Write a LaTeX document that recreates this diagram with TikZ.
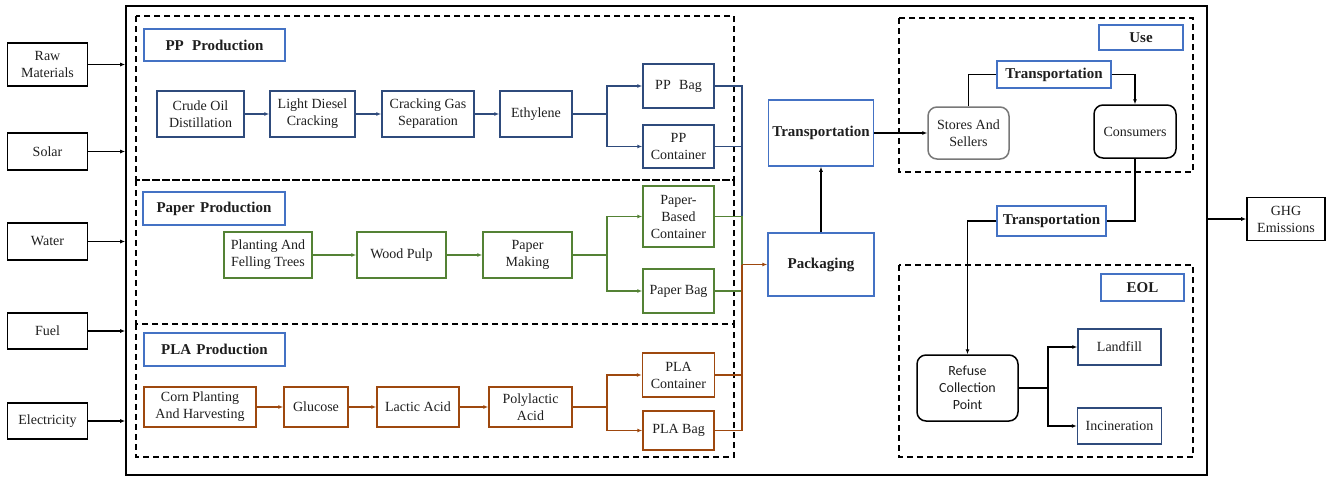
\documentclass[tikz,border=0pt]{standalone}
\usepackage{fontspec}
\setmainfont{Liberation Serif}
\newfontfamily\calfont{Carlito}
\usetikzlibrary{arrows.meta}
\definecolor{ppc}{RGB}{47,75,124}
\definecolor{pac}{RGB}{84,130,53}
\definecolor{plc}{RGB}{158,72,14}
\definecolor{lbc}{RGB}{68,114,196}
\definecolor{grc}{RGB}{120,120,120}
\definecolor{txc}{RGB}{30,30,30}
\begin{document}
\begin{tikzpicture}[x=1pt,y=-1pt,
  every node/.style={font=\fontsize{14}{17}\selectfont, align=center, inner sep=0pt, text=txc},
  ibox/.style={draw=black, line width=1.6pt, minimum width=80},
  ppb/.style={draw=ppc, line width=1.5pt},
  pab/.style={draw=pac, line width=1.5pt},
  plb/.style={draw=plc, line width=1.5pt},
  lab/.style={draw=lbc, line width=1.5pt, font=\bfseries\fontsize{15}{18}\selectfont},
  rnd/.style={draw=black, rounded corners=9pt, line width=1.5pt},
  dbox/.style={draw=black, dash pattern=on 6pt off 4pt, line width=1.4pt},
  arr/.style={-{Latex[length=5pt,width=4pt]}, line width=1.1pt},
  ppa/.style={arr, draw=ppc},
  paa/.style={arr, draw=pac},
  pla/.style={arr, draw=plc},
  ppl/.style={draw=ppc, line width=1.1pt},
  pal/.style={draw=pac, line width=1.1pt},
  pll/.style={draw=plc, line width=1.1pt},
  bl/.style={draw=black, line width=1.1pt}]
\useasboundingbox (0,0) rectangle (1333,477);

% outer frame
\node[draw=black, line width=1.6pt, minimum width=1081, minimum height=469] (outer) at (666.5,240.5) {};

% inputs
\node[ibox, minimum height=43] (raw) at (47.5,64.5) {Raw\\Materials};
\node[ibox, minimum height=37] (solar) at (47.5,151.5) {Solar};
\node[ibox, minimum height=37] (water) at (47.5,241.5) {Water};
\node[ibox, minimum height=36] (fuel) at (47.5,331) {Fuel};
\node[ibox, minimum height=36] (elec) at (47.5,421) {Electricity};
\foreach \n in {raw,solar,water,fuel,elec}{
  \draw[arr] (\n.east) -- (\n.east -| outer.west);
}
\node[ibox, minimum width=78, minimum height=43] (ghg) at (1286,219) {GHG\\Emissions};
\draw[arr] (outer.east |- ghg.west) -- (ghg.west);

% dashed groups
\draw[dbox] (136,16) rectangle (734,180);
\draw[dbox] (136,180) rectangle (734,324);
\draw[dbox] (136,324) rectangle (734,457);
\draw[dbox] (899,18) rectangle (1193,172);
\draw[dbox] (899,265) rectangle (1193,457);

% group labels
\node[lab, minimum width=141, minimum height=32] (lpp) at (214.5,45) {PP\hspace{0.55em}Production};
\node[lab, minimum width=142, minimum height=33] (lpa) at (214,208.5) {Paper\hspace{0.35em}Production};
\node[lab, minimum width=141, minimum height=33] (lpl) at (214.5,349.5) {PLA\hspace{0.35em}Production};

% PP row
\node[ppb, minimum width=87, minimum height=46] (cod) at (200.5,114) {Crude Oil\\Distillation};
\node[ppb, minimum width=85, minimum height=46] (ldc) at (312.5,114) {Light Diesel\\Cracking};
\node[ppb, minimum width=92, minimum height=46] (cgs) at (428,114) {Cracking Gas\\Separation};
\node[ppb, minimum width=72, minimum height=46] (eth) at (536,114) {Ethylene};
\node[ppb, minimum width=71, minimum height=44] (ppbag) at (678.5,86) {PP\hspace{0.6em}Bag};
\node[ppb, minimum width=71, minimum height=43] (ppcont) at (678.5,146.5) {PP\\Container};
\draw[ppa] (cod) -- (ldc);
\draw[ppa] (ldc) -- (cgs);
\draw[ppa] (cgs) -- (eth);
\coordinate (ppbr) at (607,114);
\draw[ppa] (eth.east) -- (ppbr) |- (ppbag.west);
\draw[ppa] (ppbr) |- (ppcont.west);

% Paper row
\node[pab, minimum width=88, minimum height=46] (plant) at (268,255) {Planting And\\Felling Trees};
\node[pab, minimum width=89, minimum height=46] (wood) at (401.5,255) {Wood Pulp};
\node[pab, minimum width=89, minimum height=46] (pmak) at (527.5,255) {Paper\\Making};
\node[pab, minimum width=71, minimum height=61] (pcont) at (678.5,216.5) {Paper-\\Based\\Container};
\node[pab, minimum width=71, minimum height=44] (pbag) at (678.5,291) {Paper Bag};
\draw[paa] (plant) -- (wood);
\draw[paa] (wood) -- (pmak);
\coordinate (pabr) at (607,255);
\draw[paa] (pmak.east) -- (pabr) |- (pcont.west);
\draw[paa] (pabr) |- (pbag.west);

% PLA row
\node[plb, minimum width=112, minimum height=40] (corn) at (200,407) {Corn Planting\\And Harvesting};
\node[plb, minimum width=64, minimum height=40] (gluc) at (316,407) {Glucose};
\node[plb, minimum width=82, minimum height=40] (lact) at (418,407) {Lactic Acid};
\node[plb, minimum width=83, minimum height=40] (poly) at (530.5,407) {Polylactic\\Acid};
\node[plb, minimum width=72, minimum height=44] (placont) at (678.5,375) {PLA\\Container};
\node[plb, minimum width=71, minimum height=39] (plabag) at (678.5,430.5) {PLA Bag};
\draw[pla] (corn) -- (gluc);
\draw[pla] (gluc) -- (lact);
\draw[pla] (lact) -- (poly);
\coordinate (plbr) at (607,407);
\draw[pla] (poly.east) -- (plbr) |- (placont.west);
\draw[pla] (plbr) |- (plabag.west);

% middle
\node[lab, minimum width=105, minimum height=66] (trans) at (821,133) {Transportation};
\node[lab, minimum width=106, minimum height=63] (pack) at (821,264.5) {Packaging};
\coordinate (col) at (742,264.5);
\draw[ppl] (ppbag.east) -- (ppbag.east -| col) -- (pcont.east -| col);
\draw[ppl] (ppcont.east) -- (ppcont.east -| col);
\draw[pal] (pcont.east) -- (pcont.east -| col) -- (pbag.east -| col) -- (pbag.east);
\draw[pll] (plabag.east) -- (plabag.east -| col) -- (col);
\draw[pll] (placont.east) -- (placont.east -| col);
\draw[pla] (col) -- (pack.west);
\draw[arr] (pack.north) -- (trans.south);

% Use
\node[lab, minimum width=84, minimum height=25] (luse) at (1141,37.5) {Use};
\node[rnd, draw=grc, minimum width=81, minimum height=52] (stores) at (968.5,133) {Stores And\\Sellers};
\node[lab, minimum width=114, minimum height=27] (tu) at (1054,74.5) {Transportation};
\node[rnd, minimum width=82, minimum height=53] (cons) at (1135,131.5) {Consumers};
\draw[arr] (trans.east) -- (stores.west);
\draw[bl] (stores.north) |- (tu.west);
\draw[arr] (tu.east) -| (cons.north);

% EOL
\node[lab, minimum width=109, minimum height=30] (t2) at (1051.5,221) {Transportation};
\node[lab, minimum width=83, minimum height=27] (leol) at (1142.5,287.5) {EOL};
\node[rnd, minimum width=101, minimum height=66, font=\calfont\fontsize{14}{17}\selectfont] (ref) at (967.5,388) {Refuse\\Collection\\Point};
\node[ppb, minimum width=83, minimum height=36] (land) at (1119.5,347) {Landfill};
\node[ppb, minimum width=84, minimum height=36] (inc) at (1119.5,426) {Incineration};
\draw[bl] (cons.south) |- (t2.east);
\draw[arr] (t2.west) -| (ref.north);
\coordinate (eolbr) at (1048,388);
\draw[bl] (ref.east) -- (eolbr);
\draw[arr] (eolbr) |- (land.west);
\draw[arr] (eolbr) |- (inc.west);
\end{tikzpicture}
\end{document}
